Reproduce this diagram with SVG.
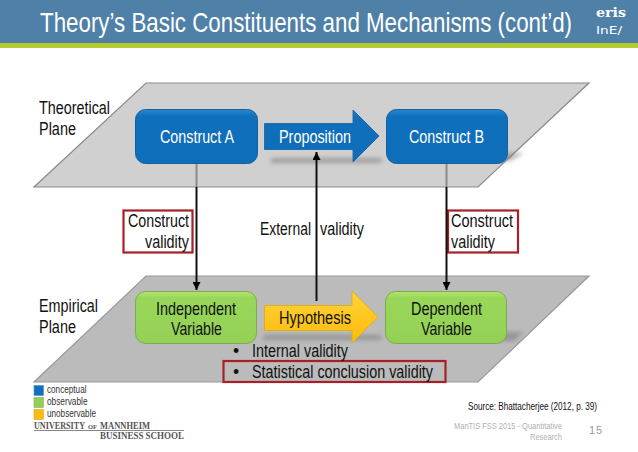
<svg xmlns="http://www.w3.org/2000/svg" width="638" height="452" viewBox="0 0 638 452">
<style>
text{font-family:"Liberation Sans",Arial,sans-serif;fill:#111}
.lbl{font-size:17.5px}
.wt{fill:#fff}
.leg{font-size:10px;fill:#333}
.red{fill:#fff;stroke:#a81f27;stroke-width:2.2}
.node{stroke-width:1}
.blue{fill:url(#gb);stroke:#14609f}
.green{fill:url(#gg);stroke:#7fa94f}
.shadow{fill:#777;opacity:.55;filter:url(#bl)}
.logo{font-family:"Liberation Serif",serif;font-weight:bold;font-size:10px;fill:#555}
.foot{font-size:9.5px;fill:#b0b0b0}
</style>
<defs>
<linearGradient id="gb" x1="0" y1="0" x2="0" y2="1"><stop offset="0" stop-color="#2a87d0"/><stop offset=".12" stop-color="#0f70bd"/><stop offset="1" stop-color="#0f6db8"/></linearGradient>
<linearGradient id="gg" x1="0" y1="0" x2="0" y2="1"><stop offset="0" stop-color="#b5e46f"/><stop offset=".12" stop-color="#98d75a"/><stop offset="1" stop-color="#94d056"/></linearGradient>
<linearGradient id="gy" x1="0" y1="0" x2="0" y2="1"><stop offset="0" stop-color="#ffd43a"/><stop offset="1" stop-color="#fdbb0a"/></linearGradient>
<filter id="bl" x="-20%" y="-100%" width="140%" height="300%"><feGaussianBlur stdDeviation="2"/></filter>
<marker id="ah" markerWidth="10" markerHeight="8" refX="8" refY="4" orient="auto" markerUnits="userSpaceOnUse"><path d="M0 0L8 4L0 8Z" fill="#000"/></marker>
</defs>
<rect width="638" height="452" fill="#fff"/>
<g id="header">
<rect width="638" height="44" fill="#4f81a8"/>
<rect y="43" width="638" height="5" fill="#b5cc2e"/>
<text class="wt" transform="translate(40 32) scale(.86 1)" font-size="27" textLength="618.600" lengthAdjust="spacingAndGlyphs">Theory’s Basic Constituents and Mechanisms (cont’d)</text>
<text class="wt" x="596" y="17" font-size="13" font-weight="bold" textLength="30" lengthAdjust="spacingAndGlyphs" style="font-family:'DejaVu Serif',serif">eris</text>
<text class="wt" x="596" y="34" font-size="11" textLength="26" lengthAdjust="spacingAndGlyphs" style="font-family:'DejaVu Sans',sans-serif">InE/</text>
</g>
<g id="theoretical-plane">
<polygon points="146,83 589,83 478,187 34,187" fill="#d0d0d0" stroke="#8a8a8a" stroke-width="1.2"/>
<text class="lbl" x="39" y="114" textLength="71" lengthAdjust="spacingAndGlyphs">Theoretical</text>
<text class="lbl" x="39" y="135" textLength="37" lengthAdjust="spacingAndGlyphs">Plane</text>
</g>
<g id="empirical-plane">
<polygon points="146,276 589,276 478,382 34,382" fill="#bbb" stroke="#999" stroke-width="1.2"/>
<text class="lbl" x="39" y="312" textLength="59" lengthAdjust="spacingAndGlyphs">Empirical</text>
<text class="lbl" x="39" y="333" textLength="37" lengthAdjust="spacingAndGlyphs">Plane</text>
</g>
<g id="shadows">
<path class="shadow" d="M272 158H380L384 161L376 163H270Z"/>
<path class="shadow" d="M500 153H524L510 161H500Z"/>
<path class="shadow" d="M265 335H380L383 338L376 340H262Z"/>
<path class="shadow" d="M500 332H524L514 341H500Z"/>
</g>
<g id="red-boxes">
<rect id="cv-left" class="red" x="123.500" y="210.500" width="69" height="42"/>
<rect id="cv-right" class="red" x="448" y="210.500" width="70" height="42"/>
<rect id="scv-box" x="223.500" y="361" width="222" height="21" fill="none" stroke="#a81f27" stroke-width="2.200"/>
</g>
<g id="construct-a"><rect class="node blue" x="135.500" y="109.500" width="122" height="54" rx="10"/><text class="lbl wt" x="160" y="143" textLength="74" lengthAdjust="spacingAndGlyphs">Construct A</text></g>
<g id="construct-b"><rect class="node blue" x="386.500" y="109.500" width="121" height="54" rx="10"/><text class="lbl wt" x="409" y="143" textLength="75" lengthAdjust="spacingAndGlyphs">Construct B</text></g>
<g id="proposition"><polygon points="264.500,123.500 353,123.500 353,110 379,136 353,162 353,149.500 264.500,149.500" fill="url(#gb)" stroke="#14609f" stroke-width=".8"/><text class="lbl wt" x="279" y="143" textLength="72" lengthAdjust="spacingAndGlyphs">Proposition</text></g>
<g id="independent-variable"><rect class="node green" x="135.500" y="291.500" width="121" height="52" rx="10"/><text class="lbl" x="156" y="315" textLength="80" lengthAdjust="spacingAndGlyphs">Independent</text><text class="lbl" x="171" y="335" textLength="51" lengthAdjust="spacingAndGlyphs">Variable</text></g>
<g id="dependent-variable"><rect class="node green" x="385.500" y="291.500" width="121" height="52" rx="10"/><text class="lbl" x="411" y="315" textLength="71" lengthAdjust="spacingAndGlyphs">Dependent</text><text class="lbl" x="421" y="335" textLength="51" lengthAdjust="spacingAndGlyphs">Variable</text></g>
<g id="hypothesis"><polygon points="264.500,305.500 352,305.500 352,291 378,317 352,343 352,330.500 264.500,330.500" fill="url(#gy)" stroke="#e0a80c" stroke-width=".8"/><text class="lbl" x="279" y="324" textLength="72" lengthAdjust="spacingAndGlyphs">Hypothesis</text></g>
<g id="connectors" fill="none">
<path d="M196.500 164V187" stroke="#8a8a8a" stroke-width="2"/>
<path d="M446.500 164V187" stroke="#8a8a8a" stroke-width="2"/>
<path d="M196.500 187V290" stroke="#111" stroke-width="2" marker-end="url(#ah)"/>
<path d="M446.500 187V290" stroke="#111" stroke-width="2" marker-end="url(#ah)"/>
<path d="M316.500 301V152" stroke="#111" stroke-width="2" marker-end="url(#ah)"/>
</g>
<g id="labels">
<text class="lbl" x="128" y="227" textLength="61" lengthAdjust="spacingAndGlyphs">Construct</text>
<text class="lbl" x="145" y="248" textLength="44" lengthAdjust="spacingAndGlyphs">validity</text>
<text class="lbl" x="451" y="227" textLength="62" lengthAdjust="spacingAndGlyphs">Construct</text>
<text class="lbl" x="451" y="248" textLength="44" lengthAdjust="spacingAndGlyphs">validity</text>
<text class="lbl" x="260" y="235" textLength="51" lengthAdjust="spacingAndGlyphs">External</text>
<text class="lbl" x="320" y="235" textLength="44" lengthAdjust="spacingAndGlyphs">validity</text>
<text class="lbl" x="233" y="357">•</text><text class="lbl" x="252" y="357" textLength="96" lengthAdjust="spacingAndGlyphs">Internal validity</text>
<text class="lbl" x="233" y="378">•</text><text class="lbl" x="252" y="378" textLength="181" lengthAdjust="spacingAndGlyphs">Statistical conclusion validity</text>
</g>
<g id="legend">
<rect x="34" y="385.500" width="9.500" height="10" fill="#0f70bd" stroke="#5a8fb8" stroke-width=".6"/>
<rect x="34" y="397.500" width="9.500" height="10" fill="#94d056" stroke="#8aa86a" stroke-width=".6"/>
<rect x="34" y="409.500" width="9.500" height="10" fill="#fdbb0a" stroke="#d0a840" stroke-width=".6"/>
<text class="leg" x="47" y="393" textLength="39.500" lengthAdjust="spacingAndGlyphs">conceptual</text>
<text class="leg" x="47" y="405" textLength="40.500" lengthAdjust="spacingAndGlyphs">observable</text>
<text class="leg" x="47" y="417" textLength="49" lengthAdjust="spacingAndGlyphs">unobservable</text>
</g>
<g id="university-logo">
<text class="logo" x="34" y="429" textLength="51" lengthAdjust="spacingAndGlyphs">UNIVERSITY</text>
<text class="logo" x="88" y="429" font-size="7" style="font-size:7px" textLength="9" lengthAdjust="spacingAndGlyphs">OF</text>
<text class="logo" x="100" y="429" textLength="50" lengthAdjust="spacingAndGlyphs">MANNHEIM</text>
<rect x="34" y="430" width="150" height="1" fill="#888"/>
<text class="logo" x="100" y="439" textLength="84" lengthAdjust="spacingAndGlyphs">BUSINESS SCHOOL</text>
</g>
<g id="footer">
<text x="468" y="410" font-size="10" textLength="129" lengthAdjust="spacingAndGlyphs">Source: Bhattacherjee (2012, p. 39)</text>
<text class="foot" x="454" y="429" textLength="108" lengthAdjust="spacingAndGlyphs">ManTIS FSS 2015 - Quantitative</text>
<text class="foot" x="530" y="440" textLength="32" lengthAdjust="spacingAndGlyphs">Research</text>
<text x="589" y="434" font-size="11" textLength="13" style="fill:#999">15</text>
</g>
</svg>
